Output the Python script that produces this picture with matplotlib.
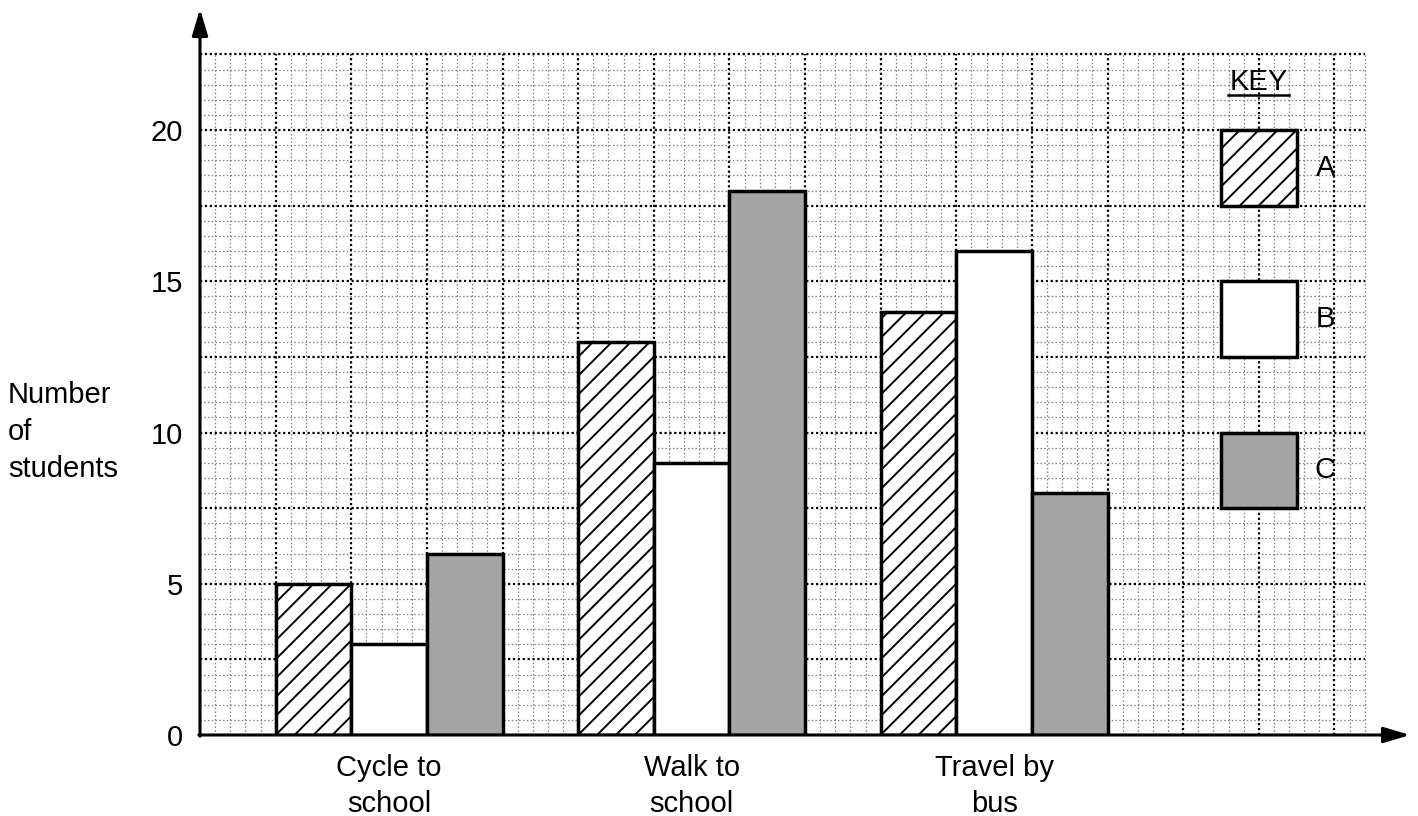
import numpy as np
import matplotlib
matplotlib.use("Agg")
import matplotlib.pyplot as plt
from matplotlib.patches import Rectangle

plt.rcParams["font.family"] = ["Liberation Sans", "DejaVu Sans"]

# data
categories = ["Cycle to\nschool", "Walk to\nschool", "Travel by\nbus"]
series_names = ["A", "B", "C"]
values_A = [5, 13, 14]
values_B = [3, 9, 16]
values_C = [6, 18, 8]
y_ticks = [0, 5, 10, 15, 20]

fills = ["white", "white", "#a5a5a5"]
hatched = [True, False, False]
FS = 21

fig = plt.figure(figsize=(14.18, 8.16), dpi=100)
ax = fig.add_axes([200 / 1418, 81 / 816, 1210 / 1418, 726 / 816])
ax.set_xlim(0, 40)
ax.set_ylim(0, 24)
for s in ax.spines.values():
    s.set_visible(False)


def hatch_patch(patch, step=0.625):
    # diagonal "/" lines clipped to the patch
    x0, y0 = patch.get_x(), patch.get_y()
    x1, y1 = x0 + patch.get_width(), y0 + patch.get_height()
    k0 = int(np.floor((y0 - x1) / step)) - 1
    k1 = int(np.ceil((y1 - x0) / step)) + 1
    for k in range(k0, k1 + 1):
        c = k * step
        ln, = ax.plot([x0 - 1, x1 + 1], [x0 - 1 + c, x1 + 1 + c],
                      color="black", lw=1.4, zorder=3.2,
                      solid_capstyle="butt")
        ln.set_clip_path(patch)


# squared paper
gx, gy = 38.5, 22.5
minor_kw = dict(color="#808080", lw=0.9, ls=(0, (1.2, 1.8)), zorder=1)
major_kw = dict(color="black", lw=1.6, ls=(0, (1, 1.2)), zorder=1.5)
for v in np.arange(0.5, gx + 0.01, 0.5):
    if abs(v / 2.5 - round(v / 2.5)) < 1e-6:
        ax.vlines(v, 0, gy, **major_kw)
    else:
        ax.vlines(v, 0, gy, **minor_kw)
for v in np.arange(0.5, gy + 0.01, 0.5):
    if abs(v / 2.5 - round(v / 2.5)) < 1e-6:
        ax.hlines(v, 0, gx, **major_kw)
    else:
        ax.hlines(v, 0, gx, **minor_kw)

# bars
bar_w = 2.5
all_vals = [values_A, values_B, values_C]
for i, vals in enumerate(all_vals):
    lefts = [2.5 + 10 * g + i * bar_w for g in range(len(categories))]
    bars = ax.bar(lefts, vals, width=bar_w, align="edge", color=fills[i],
                  edgecolor="black", linewidth=2.5, zorder=3)
    if hatched[i]:
        for b in bars:
            hatch_patch(b)

# key
ax.text(35, 21.6, "KEY", ha="center", va="center", fontsize=FS, zorder=4)
ax.plot([33.98, 36.0], [21.15, 21.15], color="black", lw=1.8, zorder=4)
key_tops = [20, 15, 10]
for i, name in enumerate(series_names):
    r = Rectangle((33.75, key_tops[i] - 2.5), 2.5, 2.5,
                  facecolor=fills[i], edgecolor="black", lw=2.5, zorder=3)
    ax.add_patch(r)
    if hatched[i]:
        hatch_patch(r)
    ax.text(37.2, key_tops[i] - 1.25, name, ha="center", va="center",
            fontsize=FS, zorder=4)

# axes with arrows
arrow_kw = dict(arrowstyle="-|>,head_length=0.4,head_width=0.12",
                mutation_scale=40, lw=2.2, color="black",
                shrinkA=0, shrinkB=0)
ax.annotate("", xy=(0, 24), xytext=(0, -0.04), arrowprops=arrow_kw,
            annotation_clip=False, zorder=5)
ax.annotate("", xy=(40, 0), xytext=(-0.04, 0), arrowprops=arrow_kw,
            annotation_clip=False, zorder=5)

ax.set_yticks(y_ticks)
ax.set_yticklabels([str(t) for t in y_ticks], fontsize=FS)
ax.tick_params(axis="y", length=0, pad=12)
ax.set_xticks([])

for g, cat in enumerate(categories):
    ax.text(6.25 + 10 * g, -0.62, cat, ha="center", va="top", fontsize=FS,
            linespacing=1.39)

fig.text(8 / 1418, 1 - 432 / 816, "Number\nof\nstudents", ha="left",
         va="center", fontsize=FS, linespacing=1.39)

fig.savefig("out.png", dpi=100)
